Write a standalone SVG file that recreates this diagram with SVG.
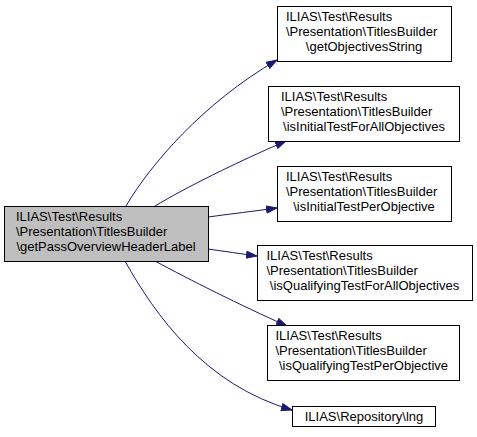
<svg xmlns="http://www.w3.org/2000/svg" width="477" height="437" viewBox="0 0 477 437">
<defs>
<style>
.box{fill:#ffffff;stroke:#000000;stroke-width:1}
.main{fill:#bfbfbf;stroke:#000000;stroke-width:1}
text{font-family:"Liberation Sans",Arial,sans-serif;font-size:13px;fill:#000000}
.s{text-anchor:start}
.m{text-anchor:middle}
.edge{fill:none;stroke:#191970;stroke-width:1}
</style>
<marker id="arr" markerUnits="userSpaceOnUse" markerWidth="12" markerHeight="9" refX="11" refY="4" orient="auto">
<path d="M0.5,0.5 L11,4 L0.5,7.5 z" fill="#191970" stroke="#191970" stroke-width="1"/>
</marker>
</defs>
<rect width="477" height="437" fill="#ffffff"/>
<g id="connectors">
<path class="edge" marker-end="url(#arr)" d="M126,206 C150,165 203,103 277,60"/>
<path class="edge" marker-end="url(#arr)" d="M155,206 C185,188 235,163 286,141"/>
<path class="edge" marker-end="url(#arr)" d="M208,217 C230,214 255,211 277,208"/>
<path class="edge" marker-end="url(#arr)" d="M208,249 C224,251 241,254 257,256"/>
<path class="edge" marker-end="url(#arr)" d="M155,261 C190,280 240,305 287,326"/>
<path class="edge" marker-end="url(#arr)" d="M125,261 C155,315 205,385 292,410"/>
</g>
<g id="node_main">
<rect class="main" x="4.5" y="206.5" width="204" height="55"/>
<text class="s" x="16" y="221">ILIAS\Test\Results</text>
<text class="s" x="16" y="236">\Presentation\TitlesBuilder</text>
<text class="m" x="106" y="251">\getPassOverviewHeaderLabel</text>
</g>
<g id="node_getObjectivesString">
<rect class="box" x="277.5" y="6.5" width="174" height="55"/>
<text class="s" x="286" y="21">ILIAS\Test\Results</text>
<text class="s" x="286" y="36">\Presentation\TitlesBuilder</text>
<text class="m" x="364" y="51">\getObjectivesString</text>
</g>
<g id="node_isInitialTestForAllObjectives">
<rect class="box" x="268.5" y="86.5" width="191" height="55"/>
<text class="s" x="281" y="101">ILIAS\Test\Results</text>
<text class="s" x="281" y="116">\Presentation\TitlesBuilder</text>
<text class="m" x="364" y="131">\isInitialTestForAllObjectives</text>
</g>
<g id="node_isInitialTestPerObjective">
<rect class="box" x="277.5" y="166.5" width="174" height="55"/>
<text class="s" x="286" y="181">ILIAS\Test\Results</text>
<text class="s" x="286" y="196">\Presentation\TitlesBuilder</text>
<text class="m" x="364" y="211">\isInitialTestPerObjective</text>
</g>
<g id="node_isQualifyingTestForAllObjectives">
<rect class="box" x="257.5" y="245.5" width="215" height="55"/>
<text class="s" x="266.5" y="260">ILIAS\Test\Results</text>
<text class="s" x="266.5" y="275">\Presentation\TitlesBuilder</text>
<text class="m" x="364.5" y="290">\isQualifyingTestForAllObjectives</text>
</g>
<g id="node_isQualifyingTestPerObjective">
<rect class="box" x="267.5" y="325.5" width="192" height="55"/>
<text class="s" x="275.5" y="340">ILIAS\Test\Results</text>
<text class="s" x="275.5" y="355">\Presentation\TitlesBuilder</text>
<text class="m" x="363.5" y="370">\isQualifyingTestPerObjective</text>
</g>
<g id="node_lng">
<rect class="box" x="292.5" y="406.5" width="143" height="20"/>
<text class="m" x="364" y="421">ILIAS\Repository\lng</text>
</g>
</svg>
